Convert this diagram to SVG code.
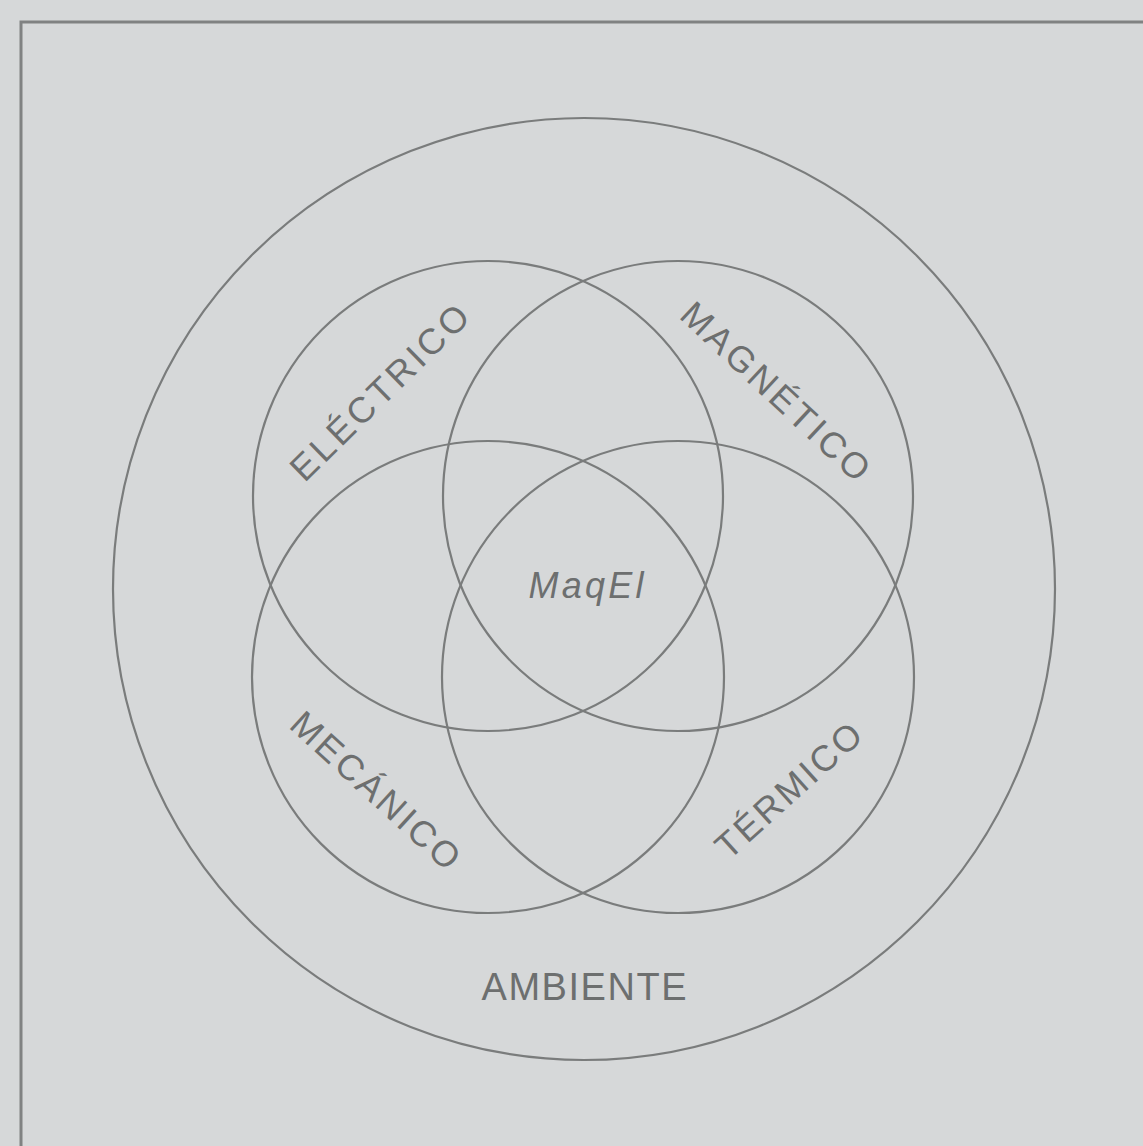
<svg xmlns="http://www.w3.org/2000/svg" width="1143" height="1146" viewBox="0 0 1143 1146">
<style>
.c{fill:none;stroke:#7a7c7c;stroke-width:2.2}
.t{font-family:"Liberation Sans","DejaVu Sans",sans-serif;fill:#6d6f6f;text-anchor:middle}
</style>
<rect x="0" y="0" width="1143" height="1146" fill="#d6d8d9"/>
<path d="M21 1146 V22 H1143" fill="none" stroke="#808282" stroke-width="3"/>
<g id="ambiente">
<circle class="c" cx="584" cy="589" r="471"/>
<text class="t" x="584" y="1000" font-size="38" textLength="205" lengthAdjust="spacing">AMBIENTE</text>
</g>
<g id="electrico">
<circle class="c" cx="488" cy="496" r="235"/>
<text class="t" transform="translate(379,392) rotate(-44.4)" y="13" font-size="36" textLength="234" lengthAdjust="spacing">ELÉCTRICO</text>
</g>
<g id="magnetico">
<circle class="c" cx="678" cy="496" r="235"/>
<text class="t" transform="translate(776,391) rotate(43)" y="13" font-size="36" textLength="244" lengthAdjust="spacing">MAGNÉTICO</text>
</g>
<g id="mecanico">
<circle class="c" cx="488" cy="677" r="236"/>
<text class="t" transform="translate(376,790) rotate(42.4)" y="13" font-size="36" textLength="215" lengthAdjust="spacing">MECÁNICO</text>
</g>
<g id="termico">
<circle class="c" cx="678" cy="677" r="236"/>
<text class="t" transform="translate(788,790) rotate(-42)" y="13" font-size="36" textLength="183" lengthAdjust="spacing">TÉRMICO</text>
</g>
<g id="maqel">
<text class="t" x="586" y="598" font-size="36" font-style="italic" textLength="115" lengthAdjust="spacing">MaqEl</text>
</g>
<g id="connectors"></g>
</svg>
